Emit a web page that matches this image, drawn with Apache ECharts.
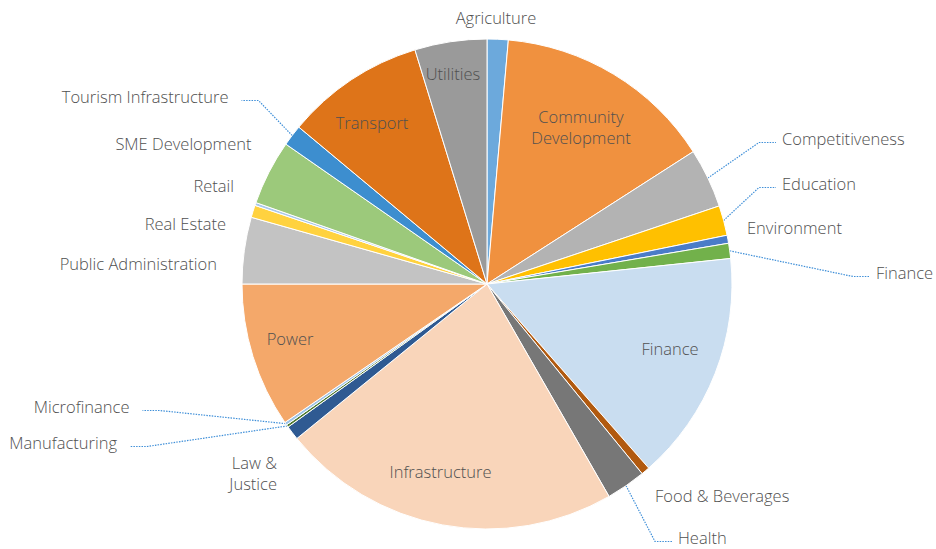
<!DOCTYPE html>
<html>
<head>
<meta charset="utf-8">
<script src="https://cdn.jsdelivr.net/npm/echarts@6.0.0/dist/echarts.min.js"></script>
<style>
  html, body { margin: 0; padding: 0; background: #fff; }
  #chart { width: 936px; height: 549px; }
</style>
</head>
<body>
<div id="chart"></div>
<script>
// slices, clockwise from 12 o'clock
const categories = ['Agriculture', 'Community Development', 'Competitiveness', 'Education',
  'Environment', 'Finance', 'Finance', 'Food & Beverages', 'Health', 'Infrastructure',
  'Law & Justice', 'Manufacturing', 'Microfinance', 'Power', 'Public Administration',
  'Real Estate', 'Retail', 'SME Development', 'Tourism Infrastructure', 'Transport', 'Utilities'];

// share of the total, %
const shares = [1.39, 14.53, 3.92, 1.97, 0.53, 1.00, 15.19, 0.56, 2.61, 22.44, 0.94,
  0.17, 0.19, 9.56, 4.39, 0.81, 0.19, 4.28, 1.39, 9.19, 4.75];

// one colour per slice (two slices share the name Finance, so no palette-by-name)
const sliceColors = ['#6CA9DC', '#F0913F', '#B3B3B3', '#FFC000', '#4A7CC8', '#72B14B',
  '#C9DDF0', '#B15A10', '#777777', '#F9D5BA', '#2F5A92', '#4E7A2E', '#9DC3E6', '#F4A86A',
  '#C3C3C3', '#FFD23F', '#A9C8EA', '#9CC97B', '#3D8ECF', '#DE7419', '#9A9A9A'];

// where each label sits (Excel style), lead = dotted leader line
const labelSpots = [
  { x: 496, y: 19, align: 'center' },
  { x: 581, y: 128.5, align: 'center' },
  { x: 782, y: 139.5, align: 'left', lead: true },
  { x: 782, y: 184.5, align: 'left', lead: true },
  { x: 747, y: 228.5, align: 'left' },
  { x: 876, y: 273.5, align: 'left', lead: true },
  { x: 670, y: 349.5, align: 'center' },
  { x: 655, y: 496.5, align: 'left' },
  { x: 678, y: 538.5, align: 'left', lead: true },
  { x: 440.5, y: 472.5, align: 'center' },
  { x: 277, y: 474, align: 'right' },
  { x: 117, y: 443.5, align: 'right', lead: true },
  { x: 129.5, y: 407.5, align: 'right', lead: true },
  { x: 290, y: 340, align: 'center' },
  { x: 217, y: 265, align: 'right' },
  { x: 226, y: 225, align: 'right' },
  { x: 234, y: 186.5, align: 'right' },
  { x: 251.5, y: 144.5, align: 'right' },
  { x: 228.5, y: 97.5, align: 'right', lead: true },
  { x: 372, y: 123.5, align: 'center' },
  { x: 453, y: 75, align: 'center' }
];
const textLift = 1.5;   // glyphs sit a touch low with this font

const twoLine = ['Community Development', 'Law & Justice'];

const chart = echarts.init(document.getElementById('chart'), null, { renderer: 'svg' });

const option = {
  animation: false,
  series: [{
    type: 'pie',
    center: [487, 284],
    radius: 245,
    startAngle: 90,
    clockwise: true,
    avoidLabelOverlap: false,
    itemStyle: {
      borderColor: '#fff',
      borderWidth: 1
    },
    label: {
      position: 'outside',
      color: '#505050',
      fontFamily: 'Open Sans',
      fontSize: 16.5,
      fontWeight: 300,
      lineHeight: 21,
      formatter: function (p) {
        if (twoLine.indexOf(p.name) >= 0) {
          const k = p.name.lastIndexOf(' ');
          return p.name.slice(0, k) + '\n' + p.name.slice(k + 1);
        }
        return p.name;
      }
    },
    labelLine: {
      show: false,
      lineStyle: { color: '#3F8FD8', width: 1.2, type: [1.5, 1.2] }
    },
    labelLayout: function (params) {
      const spot = labelSpots[params.dataIndex];
      const out = { x: spot.x, y: spot.y - textLift, align: spot.align, verticalAlign: 'middle' };
      if (spot.lead && params.labelLinePoints) {
        const dir = spot.align === 'left' ? -1 : 1;
        const gap = spot.align === 'left' ? 6 : 13;
        const ly = spot.y + 3;
        out.labelLinePoints = [
          params.labelLinePoints[0],
          [spot.x + dir * (gap + 17), ly],
          [spot.x + dir * gap, ly]
        ];
      }
      return out;
    },
    data: categories.map(function (name, i) {
      return {
        name: name,
        value: shares[i],
        itemStyle: { color: sliceColors[i] },
        labelLine: { show: !!labelSpots[i].lead }
      };
    })
  }]
};

chart.setOption(option);
</script>
</body>
</html>
